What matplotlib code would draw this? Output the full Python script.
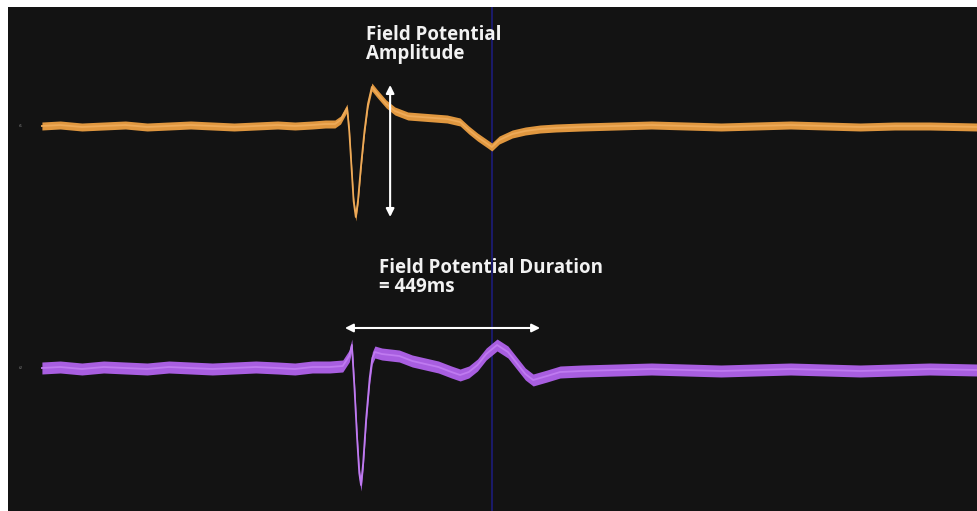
import matplotlib
matplotlib.use('Agg')
import matplotlib.pyplot as plt
import numpy as np

# time in ms, amplitude in display units (positive = up)
t_orange = [78, 120, 170, 220, 270, 320, 370, 420, 470, 520, 570, 620, 660, 700, 730, 752,
            765, 775, 780, 785, 790, 795, 800, 805, 812, 820, 828, 837, 850, 870, 890, 920,
            950, 980, 1010, 1040, 1060, 1080, 1100, 1113, 1130, 1160, 1190, 1224, 1260, 1320,
            1400, 1480, 1560, 1640, 1720, 1800, 1880, 1960, 2040, 2120, 2229]
v_orange = [0, 1, -1, 0, 1, -1, 0, 1, 0, -1, 0, 1, 0, 1, 2, 2,
            6, 14, 18, -5, -40, -75, -91, -75, -40, -5, 22, 39, 32, 22, 15, 10,
            9, 8, 7, 4, -4, -11, -17, -21, -14, -8, -5, -3, -2, -1,
            0, 1, 0, -1, 0, 1, 0, -1, 0, 0, -1]

t_purple = [78, 120, 170, 220, 270, 320, 370, 420, 470, 520, 570, 620, 660, 700, 740, 770,
            785, 791, 797, 803, 808, 812, 817, 824, 832, 838, 844, 860, 880, 900, 930, 960,
            990, 1020, 1040, 1060, 1080, 1100, 1125, 1150, 1170, 1190, 1208, 1240, 1270, 1320,
            1400, 1480, 1560, 1640, 1720, 1800, 1880, 1960, 2040, 2120, 2229]
v_purple = [0, 1, -1, 1, 0, -1, 1, 0, -1, 0, 1, 0, -1, 1, 1, 2,
            12, 23, -20, -70, -105, -117, -95, -50, -10, 10, 16, 14, 13, 12, 7, 4,
            1, -4, -7, -4, 3, 14, 23, 16, 5, -6, -12, -8, -4, -3,
            -2, -1, -2, -3, -2, -1, -2, -3, -2, -1, -2]

orange_offset = 385
purple_offset = 143
blue_line_t = 1113
duration_start, duration_end = 775, 1224
amp_top, amp_bottom = 426, 294

fig = plt.figure(figsize=(9.77, 5.11), dpi=100, facecolor='white')
ax = fig.add_axes([8 / 977, 0, 969 / 977, 504 / 511])
ax.set_facecolor('#131313')
ax.set_xlim(0, 2229)
ax.set_ylim(0, 504)
for s in ax.spines.values():
    s.set_visible(False)
ax.set_xticks([])
ax.set_yticks([])

ax.axvline(blue_line_t, color='#1c1c7a', lw=1.2, zorder=1)

yo = np.array(v_orange) + orange_offset
yp = np.array(v_purple) + purple_offset
ax.fill_between(t_orange, yo - 4, yo + 4, color='#e0973f', lw=0, zorder=2)
ax.plot(t_orange, yo, color='#eeaa58', lw=1.3, zorder=3)
ax.fill_between(t_purple, yp - 6, yp + 6, color='#a85ee0', lw=0, zorder=2)
ax.plot(t_purple, yp, color='#bf7af0', lw=1.3, zorder=3)

ax.text(25, orange_offset, 't1', color='#777777', fontsize=3, va='center')
ax.text(25, purple_offset, 't2', color='#777777', fontsize=3, va='center')

arrow = dict(arrowstyle='<|-|>', color='white', lw=1.5, mutation_scale=12,
             shrinkA=0, shrinkB=0)
ax.annotate('', xy=(879, amp_top), xytext=(879, amp_bottom), arrowprops=arrow, zorder=5)
ax.annotate('', xy=(duration_start, 183), xytext=(duration_end, 183), arrowprops=arrow, zorder=5)

ax.text(823, 486, 'Field Potential\nAmplitude', color='#f2f2f2', fontsize=13.5,
        fontweight='bold', family='Open Sans', va='top', ha='left', linespacing=0.92)
ax.text(853, 253, 'Field Potential Duration\n= 449ms', color='#f2f2f2', fontsize=13.5,
        fontweight='bold', family='Open Sans', va='top', ha='left', linespacing=0.92)

plt.savefig('out.png', dpi=100, facecolor='white')
plt.close()
